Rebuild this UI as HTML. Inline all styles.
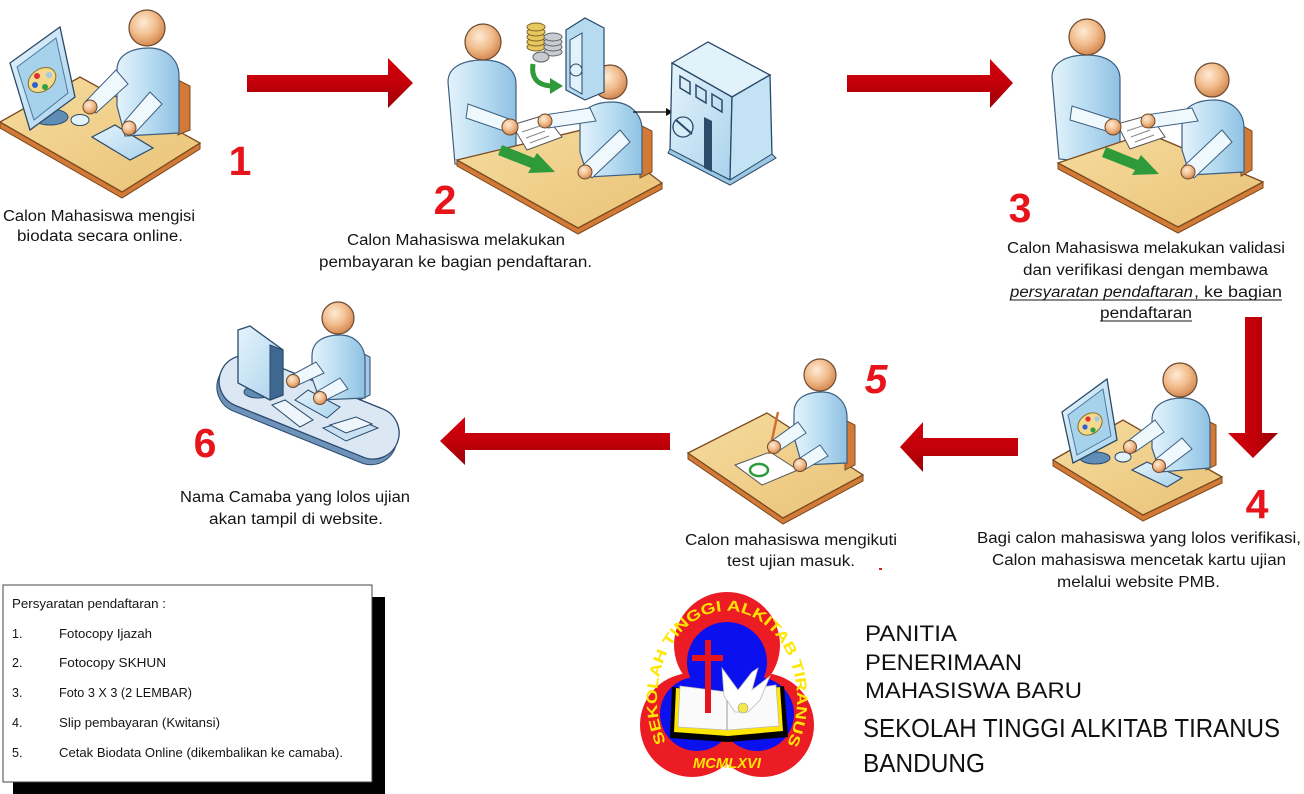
<!DOCTYPE html>
<html><head><meta charset="utf-8">
<style>
html,body{margin:0;padding:0;background:#fff;}
body{width:1304px;height:794px;overflow:hidden;}
svg{display:block;}
.t{font-family:"Liberation Sans",Arial,sans-serif;font-size:15.5px;fill:#151515;}
.b{font-family:"Liberation Sans",Arial,sans-serif;font-size:12.5px;fill:#151515;}
.n{font-family:"Liberation Sans",Arial,sans-serif;font-size:41px;font-weight:bold;fill:#e8141c;}
</style></head>
<body>
<svg width="1304" height="794" viewBox="0 0 1304 794" xmlns="http://www.w3.org/2000/svg">
<defs>
<radialGradient id="gHead" cx="40%" cy="35%" r="65%">
<stop offset="0" stop-color="#fdebd6"/><stop offset=".55" stop-color="#f2bd8e"/><stop offset="1" stop-color="#d48a52"/>
</radialGradient>
<linearGradient id="gBody" x1="0" y1="0" x2="1" y2="0">
<stop offset="0" stop-color="#e4f3fc"/><stop offset=".5" stop-color="#b9ddf1"/><stop offset="1" stop-color="#8fc1e2"/>
</linearGradient>
<linearGradient id="gDesk" x1="0" y1="0" x2="1" y2="1">
<stop offset="0" stop-color="#f6dc9e"/><stop offset="1" stop-color="#e9c277"/>
</linearGradient>
<linearGradient id="gArr" x1="0" y1="0" x2="0" y2="1">
<stop offset="0" stop-color="#d2000c"/><stop offset=".5" stop-color="#c4000a"/><stop offset="1" stop-color="#9a0006"/>
</linearGradient>
<linearGradient id="gArrV" x1="0" y1="0" x2="1" y2="0">
<stop offset="0" stop-color="#d2000c"/><stop offset=".5" stop-color="#c4000a"/><stop offset="1" stop-color="#9a0006"/>
</linearGradient>
<linearGradient id="gMon" x1="0" y1="0" x2="1" y2="1">
<stop offset="0" stop-color="#e6f4fc"/><stop offset="1" stop-color="#a9d2ec"/>
</linearGradient>
</defs>

<!-- ================= ARROWS ================= -->
<polygon points="247,75 388,75 388,58 413,83 388,108 388,92 247,92" fill="url(#gArr)"/>
<polygon points="847,75 990,75 990,59 1013,83 990,108 990,92 847,92" fill="url(#gArr)"/>
<polygon points="1245,317 1262,317 1262,433 1278,433 1253,458 1228,433 1245,433" fill="url(#gArrV)"/>
<polygon points="1018,438 923,438 923,422 900,447 923,472 923,456 1018,456" fill="url(#gArr)"/>
<polygon points="670,433 465,433 465,417 440,441 465,465 465,450 670,450" fill="url(#gArr)"/>

<!-- ================= FIGURE 1 ================= -->
<g>
<polygon points="0,128 122,198 200,149 200,143 122,192 0,122" fill="#d27a36" stroke="#7a4a20" stroke-width="1"/>
<polygon points="0,122 80,77 200,143 122,192" fill="url(#gDesk)" stroke="#7a4a20" stroke-width="1.3"/>
<ellipse cx="50" cy="117" rx="18" ry="8" fill="#5f8db5" stroke="#2a4a6a"/>
<polygon points="10,63 60,27 75,97 30,130" fill="url(#gMon)" stroke="#2a4a6a" stroke-width="1.3"/>
<polygon points="17,67 56,38 68,93 34,120" fill="#a6d2ec" stroke="#4a7aa0"/>
<ellipse cx="42" cy="80" rx="15" ry="11" transform="rotate(-35 42 80)" fill="#f2d98e" stroke="#8a7020"/>
<circle cx="37" cy="76" r="3" fill="#e03030"/><circle cx="35" cy="85" r="3" fill="#3060d0"/><circle cx="45" cy="87" r="3" fill="#30a040"/><circle cx="49" cy="75" r="3" fill="#a0c8e8"/>
<polygon points="92,137 115,125 153,148 130,160" fill="url(#gMon)" stroke="#2a4a6a" stroke-width="1.2"/>
<ellipse cx="80" cy="120" rx="9" ry="5.5" fill="#e2f1fa" stroke="#2a4a6a"/>
<polygon points="178,80 190,86 190,130 178,135" fill="#d27a36" stroke="#7a4a20"/>
<g transform="translate(147,28)">
<path d="M-30,42 C-30,26 -14,20 2,20 C20,20 32,32 32,48 L32,105 L-22,108 L-30,78 Z" fill="url(#gBody)" stroke="#3d5f80" stroke-width="1.2"/>
<circle r="18" fill="url(#gHead)" stroke="#6b4a30" stroke-width="1.2"/>
</g>
<polygon points="116,70 128,84 96,113 86,101" fill="#eef8fd" stroke="#3d5f80"/>
<polygon points="150,92 162,104 134,134 124,122" fill="#eef8fd" stroke="#3d5f80"/>
<circle cx="90" cy="107" r="7" fill="url(#gHead)" stroke="#6b4a30"/>
<circle cx="129" cy="128" r="7" fill="url(#gHead)" stroke="#6b4a30"/>
</g>

<!-- ================= FIGURE 2 ================= -->
<g>
<g transform="translate(483,42)">
<path d="M-35,40 C-35,24 -18,18 0,18 C18,18 33,26 33,42 L33,128 L-28,122 Z" fill="url(#gBody)" stroke="#3d5f80" stroke-width="1.2"/>
<circle r="18" fill="url(#gHead)" stroke="#6b4a30" stroke-width="1.2"/>
</g>
<polygon points="457,160 578,228 662,183 662,189 578,234 457,166" fill="#d27a36" stroke="#7a4a20"/>
<polygon points="457,160 590,128 662,183 578,228" fill="url(#gDesk)" stroke="#7a4a20" stroke-width="1.3"/>
<polygon points="640,125 652,131 652,172 640,178" fill="#d27a36" stroke="#7a4a20"/>
<g transform="translate(610,82)">
<path d="M-30,42 C-30,26 -14,20 2,20 C20,20 32,32 32,48 L32,92 L-22,95 L-30,70 Z" fill="url(#gBody)" stroke="#3d5f80" stroke-width="1.2"/>
<circle r="17" fill="url(#gHead)" stroke="#6b4a30" stroke-width="1.2"/>
</g>
<polygon points="512,125 545,115 562,137 527,150" fill="#fff" stroke="#555"/>
<line x1="522" y1="132" x2="540" y2="126" stroke="#888"/><line x1="526" y1="138" x2="545" y2="131" stroke="#888"/><line x1="530" y1="143" x2="549" y2="136" stroke="#888"/>
<polygon points="468,104 512,120 510,133 466,118" fill="#eef8fd" stroke="#3d5f80"/>
<polygon points="590,108 596,121 548,128 544,115" fill="#eef8fd" stroke="#3d5f80"/>
<polygon points="620,130 630,142 592,178 582,166" fill="#eef8fd" stroke="#3d5f80"/>
<circle cx="510" cy="127" r="8" fill="url(#gHead)" stroke="#6b4a30"/>
<circle cx="545" cy="121" r="7" fill="url(#gHead)" stroke="#6b4a30"/>
<circle cx="585" cy="172" r="7" fill="url(#gHead)" stroke="#6b4a30"/>
<polygon points="502,145 534,158 537,153 555,172 528,173 531,168 498,155" fill="#2e9a3a"/>
<!-- coins -->
<g stroke="#7a6420" fill="#e8c85e">
<ellipse cx="536" cy="47" rx="9" ry="4"/><ellipse cx="536" cy="42" rx="9" ry="4"/><ellipse cx="536" cy="37" rx="9" ry="4"/><ellipse cx="536" cy="32" rx="9" ry="4"/><ellipse cx="536" cy="27" rx="9" ry="4"/>
</g>
<g stroke="#606468" fill="#c8ccd0">
<ellipse cx="553" cy="52" rx="9" ry="4"/><ellipse cx="553" cy="47" rx="9" ry="4"/><ellipse cx="553" cy="42" rx="9" ry="4"/><ellipse cx="553" cy="37" rx="9" ry="4"/><ellipse cx="541" cy="57" rx="8" ry="5"/>
</g>
<path d="M533,64 Q530,85 552,86" stroke="#2e9a3a" stroke-width="5" fill="none"/>
<polygon points="550,78 563,86 550,94" fill="#2e9a3a"/>
<!-- open safe -->
<polygon points="566,30 585,18 604,28 604,92 585,100 566,90" fill="#b6dbf0" stroke="#2a4a6a" stroke-width="1.2"/>
<polygon points="570,40 582,33 582,94 570,87" fill="#e2f2fb" stroke="#2a4a6a"/>
<circle cx="576" cy="70" r="6" fill="none" stroke="#2a4a6a"/>
<!-- connector -->
<line x1="633" y1="112" x2="667" y2="112" stroke="#111" stroke-width="1.2"/>
<polygon points="666,108 673,112 666,116" fill="#111"/>
<!-- building -->
<polygon points="672,63 708,42 770,75 732,97" fill="#e2f2fb" stroke="#2a4a6a" stroke-width="1.3"/>
<polygon points="672,63 732,97 730,180 670,150" fill="url(#gMon)" stroke="#2a4a6a" stroke-width="1.3"/>
<polygon points="732,97 770,75 772,155 730,180" fill="#c3e2f4" stroke="#2a4a6a" stroke-width="1.3"/>
<polygon points="668,153 730,185 776,158 772,154 730,180 670,149" fill="#9cc8e4" stroke="#2a4a6a"/>
<polygon points="680,76 690,82 690,94 680,88" fill="none" stroke="#2a4a6a" stroke-width="1.5"/>
<polygon points="696,85 706,91 706,103 696,97" fill="none" stroke="#2a4a6a" stroke-width="1.5"/>
<polygon points="712,94 722,100 722,112 712,106" fill="none" stroke="#2a4a6a" stroke-width="1.5"/>
<circle cx="683" cy="127" r="10" fill="#d6ecf8" stroke="#2a4a6a" stroke-width="1.3"/>
<line x1="676" y1="120" x2="692" y2="134" stroke="#2a4a6a" stroke-width="2"/>
<polygon points="704,117 712,121 712,172 704,168" fill="#2c4a6a"/>
</g>

<!-- ================= FIGURE 3 ================= -->
<g>
<g transform="translate(1087,37)">
<path d="M-35,40 C-35,24 -18,18 0,18 C18,18 33,26 33,42 L33,128 L-28,122 Z" fill="url(#gBody)" stroke="#3d5f80" stroke-width="1.2"/>
<circle r="18" fill="url(#gHead)" stroke="#6b4a30" stroke-width="1.2"/>
</g>
<polygon points="1058,163 1178,227 1263,182 1263,188 1178,233 1058,169" fill="#d27a36" stroke="#7a4a20"/>
<polygon points="1058,163 1147,133 1263,182 1178,227" fill="url(#gDesk)" stroke="#7a4a20" stroke-width="1.3"/>
<polygon points="1241,125 1252,131 1252,170 1241,176" fill="#d27a36" stroke="#7a4a20"/>
<g transform="translate(1212,80)">
<path d="M-30,42 C-30,26 -14,20 2,20 C20,20 32,32 32,48 L32,92 L-22,95 L-30,70 Z" fill="url(#gBody)" stroke="#3d5f80" stroke-width="1.2"/>
<circle r="17" fill="url(#gHead)" stroke="#6b4a30" stroke-width="1.2"/>
</g>
<polygon points="1117,124 1150,115 1165,137 1130,149" fill="#fff" stroke="#555"/>
<line x1="1127" y1="131" x2="1145" y2="125" stroke="#888"/><line x1="1131" y1="137" x2="1150" y2="130" stroke="#888"/><line x1="1135" y1="142" x2="1154" y2="135" stroke="#888"/>
<polygon points="1072,106 1115,120 1113,133 1070,120" fill="#eef8fd" stroke="#3d5f80"/>
<polygon points="1192,108 1198,121 1150,128 1146,115" fill="#eef8fd" stroke="#3d5f80"/>
<polygon points="1222,130 1232,142 1194,178 1184,166" fill="#eef8fd" stroke="#3d5f80"/>
<circle cx="1113" cy="127" r="8" fill="url(#gHead)" stroke="#6b4a30"/>
<circle cx="1148" cy="121" r="7" fill="url(#gHead)" stroke="#6b4a30"/>
<circle cx="1188" cy="172" r="7" fill="url(#gHead)" stroke="#6b4a30"/>
<polygon points="1106,147 1138,160 1141,155 1159,174 1132,175 1135,170 1102,157" fill="#2e9a3a"/>
</g>

<!-- ================= FIGURE 4 ================= -->
<g>
<polygon points="1053,460 1143,515 1222,477 1222,483 1143,521 1053,466" fill="#d27a36" stroke="#7a4a20"/>
<polygon points="1053,460 1123,420 1222,477 1143,515" fill="url(#gDesk)" stroke="#7a4a20" stroke-width="1.3"/>
<ellipse cx="1095" cy="458" rx="15" ry="6" fill="#5f8db5" stroke="#2a4a6a"/>
<polygon points="1062,412 1107,379 1117,440 1073,463" fill="url(#gMon)" stroke="#2a4a6a" stroke-width="1.3"/>
<polygon points="1068,415 1103,389 1111,436 1077,455" fill="#a6d2ec" stroke="#4a7aa0"/>
<ellipse cx="1090" cy="424" rx="13" ry="10" transform="rotate(-35 1090 424)" fill="#f2d98e" stroke="#8a7020"/>
<circle cx="1088" cy="419" r="2.6" fill="#e03030"/><circle cx="1085" cy="427" r="2.6" fill="#3060d0"/><circle cx="1093" cy="430" r="2.6" fill="#30a040"/><circle cx="1097" cy="419" r="2.6" fill="#a0c8e8"/>
<polygon points="1132,470 1147,462 1182,478 1167,487" fill="url(#gMon)" stroke="#2a4a6a" stroke-width="1.2"/>
<ellipse cx="1123" cy="457" rx="8" ry="5" fill="#e2f1fa" stroke="#2a4a6a"/>
<polygon points="1206,420 1216,425 1216,465 1206,470" fill="#d27a36" stroke="#7a4a20"/>
<g transform="translate(1180,380)">
<path d="M-28,40 C-28,24 -13,18 2,18 C18,18 30,29 30,44 L30,88 L-20,92 L-28,68 Z" fill="url(#gBody)" stroke="#3d5f80" stroke-width="1.2"/>
<circle r="17" fill="url(#gHead)" stroke="#6b4a30" stroke-width="1.2"/>
</g>
<polygon points="1155,420 1164,432 1135,452 1128,441" fill="#eef8fd" stroke="#3d5f80"/>
<polygon points="1182,438 1192,449 1164,470 1156,459" fill="#eef8fd" stroke="#3d5f80"/>
<circle cx="1130" cy="447" r="6.5" fill="url(#gHead)" stroke="#6b4a30"/>
<circle cx="1159" cy="466" r="6.5" fill="url(#gHead)" stroke="#6b4a30"/>
</g>

<!-- ================= FIGURE 5 ================= -->
<g>
<polygon points="688,453 783,518 863,475 863,481 783,524 688,459" fill="#d27a36" stroke="#7a4a20"/>
<polygon points="688,453 767,413 863,475 783,518" fill="url(#gDesk)" stroke="#7a4a20" stroke-width="1.3"/>
<polygon points="735,465 770,452 798,470 762,485" fill="#fff" stroke="#555"/>
<ellipse cx="759" cy="470" rx="9" ry="6" fill="none" stroke="#2e9a3a" stroke-width="2.5"/>
<polygon points="845,420 855,425 855,465 845,470" fill="#d27a36" stroke="#7a4a20"/>
<g transform="translate(820,375)">
<path d="M-26,38 C-26,22 -12,17 2,17 C17,17 27,28 27,42 L27,88 L-18,90 L-26,62 Z" fill="url(#gBody)" stroke="#3d5f80" stroke-width="1.2"/>
<circle r="16" fill="url(#gHead)" stroke="#6b4a30" stroke-width="1.2"/>
</g>
<line x1="778" y1="412" x2="769" y2="454" stroke="#d07030" stroke-width="2.5"/>
<polygon points="798,422 806,433 780,450 773,440" fill="#eef8fd" stroke="#3d5f80"/>
<polygon points="820,445 828,456 804,470 797,460" fill="#eef8fd" stroke="#3d5f80"/>
<circle cx="774" cy="447" r="6.5" fill="url(#gHead)" stroke="#6b4a30"/>
<circle cx="800" cy="465" r="6.5" fill="url(#gHead)" stroke="#6b4a30"/>
</g>

<!-- ================= FIGURE 6 ================= -->
<g>
<g transform="rotate(22 308 410)">
<rect x="213" y="387" width="190" height="52" rx="26" fill="#6f93b8" stroke="#2a4a70"/>
<rect x="213" y="381" width="190" height="52" rx="26" fill="#dbe8f4" stroke="#2a4a70" stroke-width="1.3"/>
</g>
<ellipse cx="258" cy="392" rx="14" ry="6" fill="#5f8db5" stroke="#2a4a6a"/>
<rect x="254" y="370" width="6" height="22" fill="#3e6890"/>
<polygon points="238,330 250,326 283,350 283,395 270,400 238,383" fill="url(#gMon)" stroke="#2a4a6a" stroke-width="1.3"/>
<polygon points="270,345 283,350 283,395 270,400" fill="#3e6890" stroke="#2a4a6a"/>
<polygon points="272,405 285,400 313,420 300,427" fill="#eef6fc" stroke="#2a4a6a"/>
<polygon points="295,400 308,390 340,407 327,418" fill="url(#gMon)" stroke="#2a4a6a"/>
<polygon points="323,428 355,418 378,428 346,441" fill="#c8e0f2" stroke="#2a4a6a"/>
<polygon points="330,425 356,417 372,424 346,433" fill="#eef6fc" stroke="#2a4a6a"/>
<polygon points="360,352 370,357 370,395 360,400" fill="#a6c8e4" stroke="#2a4a6a"/>
<g transform="translate(338,318)">
<path d="M-26,38 C-26,22 -12,17 2,17 C17,17 27,28 27,42 L27,80 L-18,82 L-26,60 Z" fill="url(#gBody)" stroke="#3d5f80" stroke-width="1.2"/>
<circle r="16" fill="url(#gHead)" stroke="#6b4a30" stroke-width="1.2"/>
</g>
<polygon points="316,362 324,373 296,386 290,376" fill="#eef8fd" stroke="#3d5f80"/>
<polygon points="340,378 348,389 322,402 316,392" fill="#eef8fd" stroke="#3d5f80"/>
<circle cx="293" cy="381" r="6.5" fill="url(#gHead)" stroke="#6b4a30"/>
<circle cx="320" cy="398" r="6.5" fill="url(#gHead)" stroke="#6b4a30"/>
</g>

<!-- ================= NUMBERS ================= -->
<text class="n" x="240" y="175" text-anchor="middle">1</text>
<text class="n" x="445" y="214" text-anchor="middle">2</text>
<text class="n" x="1020" y="222" text-anchor="middle">3</text>
<text class="n" x="1257" y="518" text-anchor="middle">4</text>
<text class="n" x="876" y="393" text-anchor="middle" font-style="italic">5</text>
<text class="n" x="205" y="457" text-anchor="middle">6</text>

<!-- ================= LABELS ================= -->
<text class="t" x="3" y="221" textLength="192" lengthAdjust="spacingAndGlyphs">Calon Mahasiswa mengisi</text>
<text class="t" x="17" y="241" textLength="166" lengthAdjust="spacingAndGlyphs">biodata secara online.</text>

<text class="t" x="347" y="245" textLength="218" lengthAdjust="spacingAndGlyphs">Calon Mahasiswa melakukan</text>
<text class="t" x="319" y="267" textLength="273" lengthAdjust="spacingAndGlyphs">pembayaran ke bagian pendaftaran.</text>

<text class="t" x="1007" y="253" textLength="278" lengthAdjust="spacingAndGlyphs">Calon Mahasiswa melakukan validasi</text>
<text class="t" x="1023" y="275" textLength="245" lengthAdjust="spacingAndGlyphs">dan verifikasi dengan membawa</text>
<text class="t" x="1010" y="297" textLength="183" lengthAdjust="spacingAndGlyphs" font-style="italic">persyaratan pendaftaran</text>
<text class="t" x="1194" y="297" textLength="88" lengthAdjust="spacingAndGlyphs">, ke bagian</text>
<line x1="1010" y1="300" x2="1282" y2="300" stroke="#151515" stroke-width="1"/>
<text class="t" x="1100" y="318" textLength="92" lengthAdjust="spacingAndGlyphs">pendaftaran</text>
<line x1="1100" y1="321" x2="1192" y2="321" stroke="#151515" stroke-width="1"/>

<text class="t" x="977" y="543" textLength="324" lengthAdjust="spacingAndGlyphs">Bagi calon mahasiswa yang lolos verifikasi,</text>
<text class="t" x="992" y="565" textLength="294" lengthAdjust="spacingAndGlyphs">Calon mahasiswa mencetak kartu ujian</text>
<text class="t" x="1057" y="587" textLength="163" lengthAdjust="spacingAndGlyphs">melalui website PMB.</text>

<text class="t" x="685" y="545" textLength="212" lengthAdjust="spacingAndGlyphs">Calon mahasiswa mengikuti</text>
<text class="t" x="727" y="566" textLength="128" lengthAdjust="spacingAndGlyphs">test ujian masuk.</text>
<rect x="879" y="568" width="3" height="2" fill="#d02020"/>

<text class="t" x="180" y="502" textLength="230" lengthAdjust="spacingAndGlyphs">Nama Camaba yang lolos ujian</text>
<text class="t" x="209" y="524" textLength="174" lengthAdjust="spacingAndGlyphs">akan tampil di website.</text>

<!-- ================= REQUIREMENTS BOX ================= -->
<rect x="13" y="597" width="372" height="200" fill="#000"/>
<rect x="3" y="585" width="369" height="197" fill="#fff" stroke="#444" stroke-width="1"/>
<text class="b" x="12" y="608" textLength="154" lengthAdjust="spacingAndGlyphs">Persyaratan pendaftaran :</text>
<text class="b" x="12" y="638">1.</text><text class="b" x="59" y="638" textLength="93" lengthAdjust="spacingAndGlyphs">Fotocopy Ijazah</text>
<text class="b" x="12" y="667">2.</text><text class="b" x="59" y="667" textLength="107" lengthAdjust="spacingAndGlyphs">Fotocopy SKHUN</text>
<text class="b" x="12" y="697">3.</text><text class="b" x="59" y="697" textLength="133" lengthAdjust="spacingAndGlyphs">Foto 3 X 3 (2 LEMBAR)</text>
<text class="b" x="12" y="727">4.</text><text class="b" x="59" y="727" textLength="161" lengthAdjust="spacingAndGlyphs">Slip pembayaran (Kwitansi)</text>
<text class="b" x="12" y="757">5.</text><text class="b" x="59" y="757" textLength="284" lengthAdjust="spacingAndGlyphs">Cetak Biodata Online (dikembalikan ke camaba).</text>

<!-- ================= LOGO ================= -->
<g>
<g fill="#ec1c24">
<circle cx="727" cy="645" r="53"/>
<circle cx="692" cy="725" r="52"/>
<circle cx="762" cy="725" r="52"/>
<polygon points="692,690 762,690 770,740 684,740"/>
</g>
<g fill="#0a10ee">
<circle cx="727" cy="662" r="40"/>
<circle cx="697" cy="714" r="37"/>
<circle cx="757" cy="714" r="37"/>
<polygon points="697,670 757,670 770,730 684,730"/>
</g>
<!-- book -->
<polygon points="672,687 728,694 784,686 788,737 728,742 670,738" fill="#000"/>
<polygon points="676,688 728,694 780,687 783,731 728,736 674,732" fill="#ffe600"/>
<polygon points="680,686 727,692 776,685 779,726 727,730 678,727" fill="#fafafa" stroke="#bbb" stroke-width=".8"/>
<line x1="727" y1="692" x2="727" y2="730" stroke="#999"/>
<!-- dove -->
<path d="M722,668 L738,690 L752,672 L758,668 L752,690 L770,676 L760,700 L748,712 L735,712 L724,696 Z" fill="#fff" stroke="#bbb" stroke-width=".8"/>
<circle cx="743" cy="708" r="5" fill="#f5e84a" stroke="#999" stroke-width=".6"/>
<!-- cross -->
<rect x="705" y="640" width="6" height="73" fill="#e8141c"/>
<rect x="692" y="655" width="31" height="6" fill="#e8141c"/>
<path id="arcTxt" d="M666,742 A70,88 0 1,1 788,742" fill="none"/>
<text font-family="'Liberation Sans',Arial,sans-serif" font-weight="bold" font-size="15" fill="#ffe600"><textPath href="#arcTxt" textLength="340" lengthAdjust="spacingAndGlyphs">SEKOLAH TINGGI ALKITAB TIRANUS</textPath></text>
<text x="727" y="768" text-anchor="middle" font-family="'Liberation Sans',Arial,sans-serif" font-weight="bold" font-style="italic" font-size="15" fill="#ffe600" textLength="68" lengthAdjust="spacingAndGlyphs">MCMLXVI</text>
</g>

<!-- ================= TITLE TEXT ================= -->
<g font-family="'Liberation Sans',Arial,sans-serif" fill="#111">
<text x="865" y="641" font-size="22" textLength="92" lengthAdjust="spacingAndGlyphs">PANITIA</text>
<text x="865" y="670" font-size="22" textLength="157" lengthAdjust="spacingAndGlyphs">PENERIMAAN</text>
<text x="865" y="698" font-size="22" textLength="217" lengthAdjust="spacingAndGlyphs">MAHASISWA BARU</text>
<text x="863" y="737" font-size="26" textLength="417" lengthAdjust="spacingAndGlyphs">SEKOLAH TINGGI ALKITAB TIRANUS</text>
<text x="863" y="772" font-size="26" textLength="122" lengthAdjust="spacingAndGlyphs">BANDUNG</text>
</g>
</svg>
</body></html>
